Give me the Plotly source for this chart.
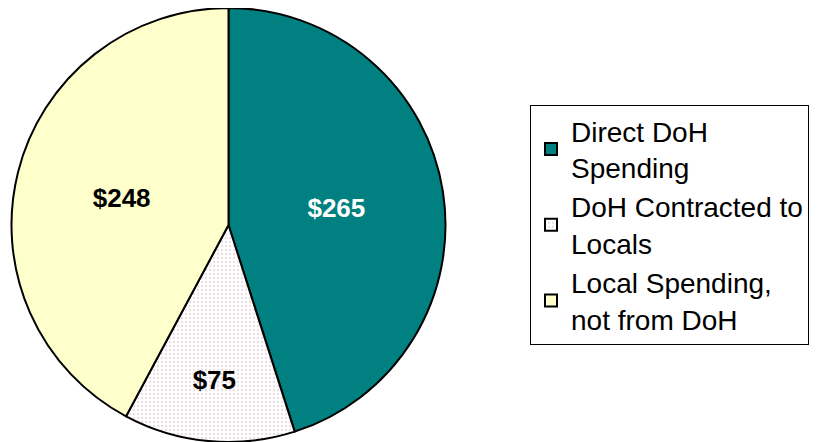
import plotly.graph_objects as go

labels = ["Direct DoH<br>Spending", "DoH Contracted to<br>Locals", "Local Spending,<br>not from DoH"]
values = [265, 75, 248]
text_labels = ["$265", "$75", "$248"]
colors = ["#008080", "#FFFFFF", "#FFFFCC"]
text_colors = ["#FFFFFF", "#000000", "#000000"]

# the page body adds an 8px margin, so the figure is drawn 8px smaller
W, H = 820, 434

fig = go.Figure(go.Pie(
    labels=labels,
    values=values,
    text=text_labels,
    textinfo="text",
    textposition="inside",
    insidetextorientation="horizontal",
    sort=False,
    direction="clockwise",
    rotation=0,
    marker=dict(
        colors=colors,
        line=dict(color="#000000", width=2),
        pattern=dict(shape=["", ".", ""], fgcolor="#d8b8c8", bgcolor="#FFFFFF",
                     size=4, solidity=0.25, fillmode="overlay"),
    ),
    insidetextfont=dict(family="Liberation Sans, Arial, sans-serif", size=26,
                        color=text_colors, weight="bold"),
    domain=dict(x=[3 / W, 438 / W], y=[0, 1]),
    hoverinfo="skip",
))

fig.update_layout(
    width=W, height=H,
    margin=dict(l=0, r=0, t=0, b=0),
    paper_bgcolor="#FFFFFF",
    plot_bgcolor="#FFFFFF",
    showlegend=True,
    legend=dict(
        x=522 / W, y=(H - 97) / H, xanchor="left", yanchor="top",
        bordercolor="#000000", borderwidth=1,
        font=dict(family="Liberation Sans, Arial, sans-serif", size=28, color="#000000"),
        bgcolor="#FFFFFF",
        itemsizing="constant",
    ),
    font=dict(family="Liberation Sans, Arial, sans-serif"),
)

fig.write_html("out.html")
